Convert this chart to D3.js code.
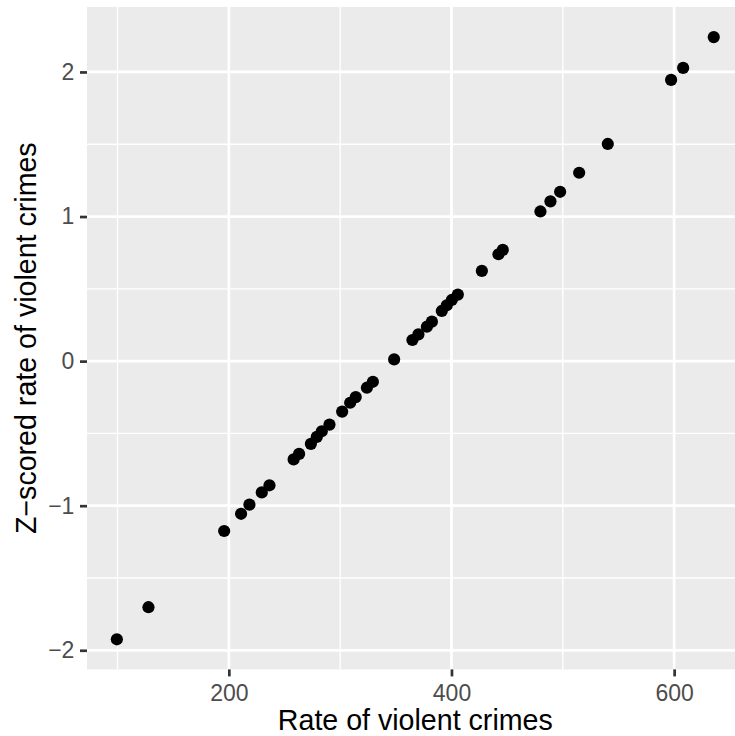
<!DOCTYPE html>
<html>
<head>
<meta charset="utf-8">
<script src="https://cdn.jsdelivr.net/npm/d3@7"></script>
<style>
  html, body { margin: 0; padding: 0; background: #ffffff; }
  svg { display: block; }
  text { font-family: "Liberation Sans", Arial, Helvetica, sans-serif; }
</style>
</head>
<body>
<div id="chart"></div>
<script>
// Rate of violent crimes (x) and its z-scored value (y)
const rateValues = [
  99.4, 127.8, 195.8, 211.0, 218.5, 229.6, 236.5, 258.2, 263.1,
  273.7, 279.0, 283.5, 290.4, 301.8, 309.0, 314.0, 324.0, 329.4,
  348.5, 364.9, 370.3, 377.9, 382.4, 391.3, 395.8, 400.3, 405.7,
  427.3, 442.2, 446.1, 479.9, 488.9, 497.6, 514.7, 540.4, 597.3,
  608.1, 635.6
];
const zValues = [
  -1.924, -1.702, -1.175, -1.056, -0.993, -0.908, -0.859, -0.680, -0.642,
  -0.572, -0.524, -0.485, -0.439, -0.349, -0.288, -0.249, -0.184, -0.143,
  0.012, 0.146, 0.185, 0.238, 0.273, 0.347, 0.386, 0.423, 0.460,
  0.624, 0.739, 0.769, 1.035, 1.105, 1.171, 1.303, 1.502, 1.945,
  2.028, 2.241
];
const xTicks = [200, 400, 600];
const xMinor = [100, 300, 500, 700];
const yTicks = [-2, -1, 0, 1, 2];
const yMinor = [-2.5, -1.5, -0.5, 0.5, 1.5, 2.5];
const xTitle = "Rate of violent crimes";
const yTitle = "Z\u2212scored rate of violent crimes";

const W = 735, H = 736;
const panel = { left: 87, top: 7, right: 743.6, bottom: 669.4 };

const points = rateValues.map((v, i) => ({ x: v, y: zValues[i] }));

function expand(ext) {
  const pad = (ext[1] - ext[0]) * 0.05;
  return [ext[0] - pad, ext[1] + pad];
}

const x = d3.scaleLinear().domain(expand(d3.extent(rateValues))).range([panel.left, panel.right]);
const y = d3.scaleLinear().domain(expand(d3.extent(zValues))).range([panel.bottom, panel.top]);

const svg = d3.select("#chart").append("svg").attr("width", W).attr("height", H);

svg.append("defs").append("clipPath").attr("id", "pclip")
  .append("rect")
  .attr("x", panel.left).attr("y", panel.top)
  .attr("width", panel.right - panel.left).attr("height", panel.bottom - panel.top);

svg.append("rect")
  .attr("x", panel.left).attr("y", panel.top)
  .attr("width", panel.right - panel.left).attr("height", panel.bottom - panel.top)
  .attr("fill", "#EBEBEB");

const grid = svg.append("g").attr("clip-path", "url(#pclip)");
const [x0, x1] = x.domain(), [y0, y1] = y.domain();

grid.selectAll("line.xminor").data(xMinor.filter(d => d >= x0 && d <= x1)).join("line")
  .attr("x1", d => x(d)).attr("x2", d => x(d))
  .attr("y1", panel.top).attr("y2", panel.bottom)
  .attr("stroke", "#ffffff").attr("stroke-width", 1.35);
grid.selectAll("line.yminor").data(yMinor.filter(d => d >= y0 && d <= y1)).join("line")
  .attr("y1", d => y(d)).attr("y2", d => y(d))
  .attr("x1", panel.left).attr("x2", panel.right)
  .attr("stroke", "#ffffff").attr("stroke-width", 1.35);
grid.selectAll("line.xmajor").data(xTicks).join("line")
  .attr("x1", d => x(d)).attr("x2", d => x(d))
  .attr("y1", panel.top).attr("y2", panel.bottom)
  .attr("stroke", "#ffffff").attr("stroke-width", 2.7);
grid.selectAll("line.ymajor").data(yTicks).join("line")
  .attr("y1", d => y(d)).attr("y2", d => y(d))
  .attr("x1", panel.left).attr("x2", panel.right)
  .attr("stroke", "#ffffff").attr("stroke-width", 2.7);

// Points
svg.append("g").attr("clip-path", "url(#pclip)")
  .selectAll("circle").data(points).join("circle")
  .attr("cx", d => x(d.x)).attr("cy", d => y(d.y))
  .attr("r", 6.1).attr("fill", "#000000");

const fmt = d => (d < 0 ? "\u2212" + Math.abs(d) : String(d));

// X axis
const xAxis = svg.append("g")
  .attr("transform", `translate(0,${panel.bottom})`)
  .call(d3.axisBottom(x).tickValues(xTicks).tickSize(7).tickPadding(8).tickFormat(fmt));
xAxis.select(".domain").remove();
xAxis.selectAll(".tick line").attr("stroke", "#333333").attr("stroke-width", 2.7);
xAxis.selectAll(".tick text").attr("fill", "#4D4D4D").attr("font-size", 23)
  .attr("font-family", "Liberation Sans, Arial, sans-serif");

// Y axis
const yAxis = svg.append("g")
  .attr("transform", `translate(${panel.left},0)`)
  .call(d3.axisLeft(y).tickValues(yTicks).tickSize(7).tickPadding(5.6).tickFormat(fmt));
yAxis.select(".domain").remove();
yAxis.selectAll(".tick line").attr("stroke", "#333333").attr("stroke-width", 2.7);
yAxis.selectAll(".tick text").attr("fill", "#4D4D4D").attr("font-size", 23)
  .attr("font-family", "Liberation Sans, Arial, sans-serif");

// Titles
svg.append("text")
  .attr("x", (panel.left + panel.right) / 2).attr("y", 729.8)
  .attr("text-anchor", "middle").attr("font-size", 28.6).attr("fill", "#000000")
  .text(xTitle);

svg.append("text")
  .attr("transform", `translate(36,${(panel.top + panel.bottom) / 2}) rotate(-90)`)
  .attr("text-anchor", "middle").attr("font-size", 28.6).attr("fill", "#000000")
  .text(yTitle);
</script>
</body>
</html>
